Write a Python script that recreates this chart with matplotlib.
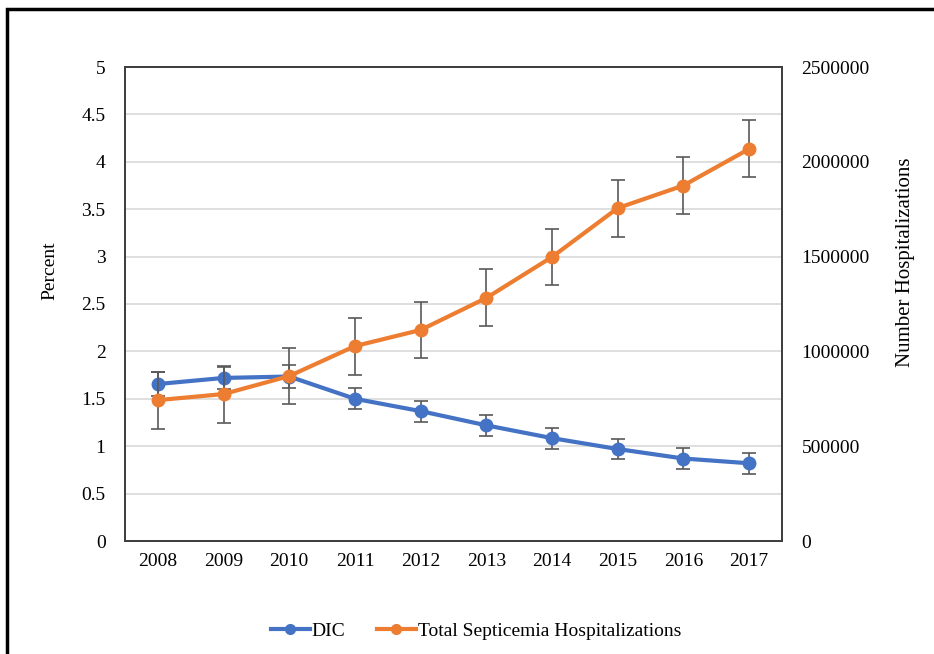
import matplotlib
matplotlib.use("Agg")
import matplotlib.pyplot as plt
from matplotlib.patches import Rectangle
from matplotlib.lines import Line2D

plt.rcParams['font.family'] = ['Liberation Serif', 'DejaVu Serif']

years = ['2008', '2009', '2010', '2011', '2012', '2013', '2014', '2015', '2016', '2017']
dic = [1.656, 1.72, 1.735, 1.50, 1.37, 1.22, 1.085, 0.97, 0.87, 0.82]
dic_err = [0.125, 0.12, 0.12, 0.11, 0.11, 0.11, 0.11, 0.11, 0.11, 0.11]
sep = [743000, 775000, 870000, 1028000, 1113000, 1282000, 1498000, 1756000, 1875000, 2068000]
sep_err = [150000, 150000, 150000, 150000, 150000, 150000, 150000, 150000, 150000, 150000]

left_ticks = [0, 0.5, 1, 1.5, 2, 2.5, 3, 3.5, 4, 4.5, 5]
left_labels = ['0', '0.5', '1', '1.5', '2', '2.5', '3', '3.5', '4', '4.5', '5']
right_ticks = [0, 500000, 1000000, 1500000, 2000000, 2500000]

blue = '#4472C4'
orange = '#ED7D31'
errc = '#595959'

fig = plt.figure(figsize=(9.34, 6.54), dpi=100)
ax = fig.add_axes([125/934, 1-541/654, (782-125)/934, (541-67)/654])
ax2 = ax.twinx()

x = list(range(len(years)))
ax.errorbar(x, dic, yerr=dic_err, color=blue, lw=3, marker='o', ms=9,
            ecolor=errc, elinewidth=1.2, capsize=5, capthick=1.2, zorder=3, label='DIC')
ax2.errorbar(x, sep, yerr=sep_err, color=orange, lw=3, marker='o', ms=9,
             ecolor=errc, elinewidth=1.2, capsize=5, capthick=1.2, zorder=3,
             label='Total Septicemia Hospitalizations')

ax.set_xlim(-0.5, 9.5)
ax.set_ylim(0, 5)
ax2.set_ylim(0, 2500000)
ax.set_xticks(x)
ax.set_xticklabels(years)
ax.set_yticks(left_ticks)
ax.set_yticklabels(left_labels)
ax2.set_yticks(right_ticks)
ax2.set_yticklabels([str(v) for v in right_ticks])

ax.grid(axis='y', color='#d9d9d9', lw=1.2)
ax.set_axisbelow(True)
for a in (ax, ax2):
    a.tick_params(length=0, labelsize=14, colors='black')
    for s in a.spines.values():
        s.set_color('#404040')
        s.set_linewidth(1.4)
ax.tick_params(axis='x', pad=9)
ax.tick_params(axis='y', pad=14)
ax2.tick_params(axis='y', pad=14)

ax.set_ylabel('Percent', fontsize=14)
ax.yaxis.set_label_coords(-0.102, 0.57)
ax2.set_ylabel('Number Hospitalizations', fontsize=15, rotation=90)
ax2.yaxis.set_label_coords(1.174, 0.589)

l1 = ['DIC', 'Total Septicemia Hospitalizations']
handles = [Line2D([], [], color=blue, lw=3, marker='o', ms=7),
           Line2D([], [], color=orange, lw=3, marker='o', ms=7)]
fig.legend(handles, l1, loc='center', bbox_to_anchor=(476/934, 1-631/654),
           ncol=2, frameon=False, fontsize=14, handlelength=2.0, columnspacing=1.6,
           handletextpad=0.1)

fig.patches.append(Rectangle((7/934, -0.1), 1.2, 1 - 9/654 + 0.1, transform=fig.transFigure,
                             fill=False, edgecolor='black', lw=2.5))

fig.savefig('out.png', dpi=100)
